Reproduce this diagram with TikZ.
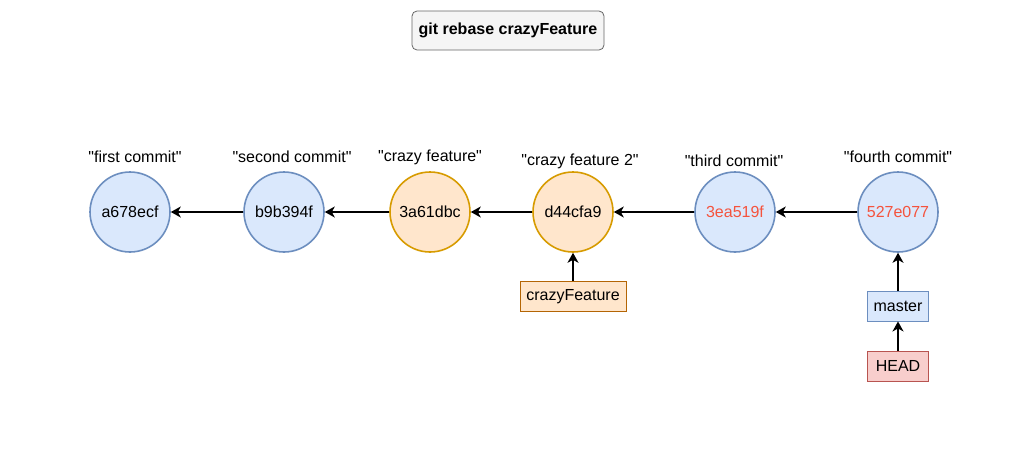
\documentclass[tikz,border=0pt]{standalone}
\usepackage{fontspec}
\setmainfont{Liberation Sans}[Ligatures=TeXOff]
\usetikzlibrary{arrows.meta}
\definecolor{blueFill}{HTML}{DAE8FC}
\definecolor{blueLine}{HTML}{6C8EBF}
\definecolor{orangeFill}{HTML}{FFE6CC}
\definecolor{orangeLine}{HTML}{D79B00}
\definecolor{boxLine}{HTML}{B46504}
\definecolor{redFill}{HTML}{F8CECC}
\definecolor{redLine}{HTML}{B85450}
\definecolor{hashRed}{HTML}{F5533D}
\definecolor{titleFill}{HTML}{F5F5F5}
\definecolor{titleLine}{HTML}{666666}
\begin{document}
\begin{tikzpicture}[x=1pt,y=-1pt,
  every node/.style={font=\fontsize{16}{19}\selectfont, inner sep=0pt},
  commitblue/.style={circle, draw=blueLine, fill=blueFill, line width=1.6pt, minimum size=80pt},
  commitorange/.style={circle, draw=orangeLine, fill=orangeFill, line width=1.6pt, minimum size=80pt},
  lbl/.style={anchor=center},
  tagbox/.style={rectangle, line width=0.9pt, minimum height=30pt, inner xsep=4pt},
  arr/.style={-{Stealth[length=10pt,width=11pt,inset=3pt]}, line width=1.8pt, black}
]
\useasboundingbox (0,0) rectangle (1011,471);
\node[rectangle, rounded corners=5pt, draw=titleLine, fill=titleFill, line width=0.8pt,
  minimum width=192pt, minimum height=39pt, font=\fontsize{16}{19}\selectfont\bfseries] (title) at (508,30.5) {git rebase crazyFeature};

\node[commitblue] (c1) at (130,212) {a678ecf};
\node[commitblue] (c2) at (284,212) {b9b394f};
\node[commitorange] (c3) at (430,212) {3a61dbc};
\node[commitorange] (c4) at (573,212) {d44cfa9};
\node[commitblue, text=hashRed] (c5) at (735,212) {3ea519f};
\node[commitblue, text=hashRed] (c6) at (898,212) {527e077};

\node[lbl] (l1) at (135,157) {"first commit"};
\node[lbl] (l2) at (292,157) {"second commit"};
\node[lbl] (l3) at (430,157) {"crazy feature"};
\node[lbl] (l4) at (580,161) {"crazy feature 2"};
\node[lbl] (l5) at (734,161) {"third commit"};
\node[lbl] (l6) at (898,157) {"fourth commit"};

\node[tagbox, draw=boxLine, fill=orangeFill, minimum width=106pt] (cf) at (573,296.5) {crazyFeature};
\node[tagbox, draw=blueLine, fill=blueFill, minimum width=61pt] (master) at (898,306) {master};
\node[tagbox, draw=redLine, fill=redFill, minimum width=61pt] (head) at (898,366) {HEAD};

\draw[arr] (c2) -- (c1);
\draw[arr] (c3) -- (c2);
\draw[arr] (c4) -- (c3);
\draw[arr] (c5) -- (c4);
\draw[arr] (c6) -- (c5);
\draw[arr] (cf) -- (c4);
\draw[arr] (master) -- (c6);
\draw[arr] (head) -- (master);
\end{tikzpicture}
\end{document}
